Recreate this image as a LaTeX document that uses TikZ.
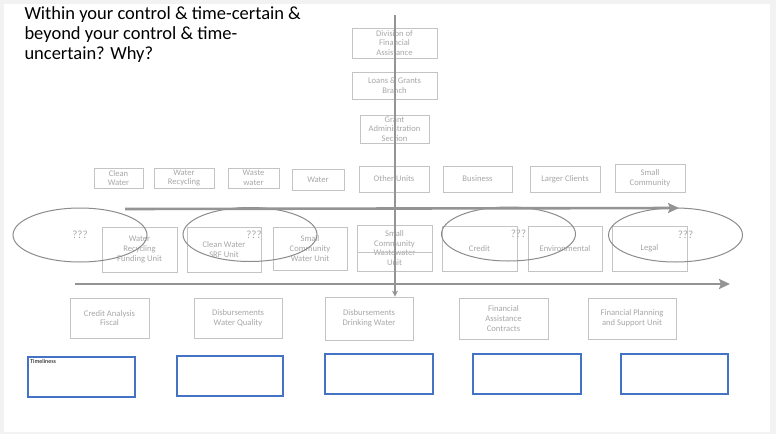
\documentclass[tikz,border=0pt]{standalone}
\usepackage{fontspec}
\setmainfont{Carlito}
\usepackage{tikz}
\usetikzlibrary{positioning,arrows.meta,shapes.geometric}

\definecolor{boxline}{RGB}{196,196,196}
\definecolor{boxtext}{RGB}{168,168,168}
\definecolor{flowline}{RGB}{148,148,148}
\definecolor{ringline}{RGB}{140,140,140}
\definecolor{slotblue}{RGB}{68,114,196}

\begin{document}
\begin{tikzpicture}[
  x=1pt,y=-1pt,
  gbox/.style={rectangle,draw=boxline,line width=0.8pt,inner sep=0pt,align=center,text=boxtext,font=\fontsize{8.6}{9.6}\selectfont},
  slot/.style={rectangle,draw=slotblue,line width=1.8pt,inner sep=0pt,minimum width=107pt,minimum height=40pt},
  ring/.style={ellipse,draw=ringline,line width=1pt,inner sep=0pt,minimum width=134pt,minimum height=54pt,text=boxtext,font=\fontsize{11}{12}\selectfont},
  flow/.style={-{Stealth[length=11pt,width=10pt,inset=2pt]},line width=2.6pt,draw=flowline},
]
% Frame
\useasboundingbox (0,0) rectangle (776,434);
\fill[gray!10] (0,0) rectangle (776,434);
\fill[white] (4,4) rectangle (770,432);

% Question
\node[anchor=north west,align=left,font=\fontsize{18.5}{20}\selectfont] (quest) at (21,3) {Within your control \& time-certain \&\\beyond your control \& time-\\uncertain? Why?};

% Top chain
\node[gbox,minimum width=85pt,minimum height=30pt] (dfa) at (394.5,43) {Division of\\Financial\\Assistance};
\node[gbox,minimum width=85pt,minimum height=27pt] (lgb) at (394.5,85.5) {Loans \& Grants\\Branch};
\node[gbox,minimum width=69pt,minimum height=28pt] (gas) at (394.5,129) {Grant\\Administration\\Section};

% Client row
\node[gbox,minimum width=49pt,minimum height=20pt] (cw) at (118.5,178) {Clean\\Water};
\node[gbox,minimum width=60pt,minimum height=20pt] (wr) at (184,178) {Water\\Recycling};
\node[gbox,minimum width=51pt,minimum height=20pt] (ww) at (253.5,178) {Waste\\water};
\node[gbox,minimum width=52pt,minimum height=21pt] (wat) at (318,179.5) {Water};
\node[gbox,minimum width=70pt,minimum height=26pt] (ou) at (394,179) {Other Units};
\node[gbox,minimum width=69pt,minimum height=26pt] (bus) at (477.5,179) {Business};
\node[gbox,minimum width=70pt,minimum height=26pt] (lc) at (565,179) {Larger Clients};
\node[gbox,minimum width=70pt,minimum height=28pt] (sc) at (650,178) {Small\\Community};

% Unit row
\node[gbox,minimum width=75pt,minimum height=45pt] (wrf) at (139.5,249.5) {Water\\Recycling\\Funding Unit};
\node[gbox,minimum width=74pt,minimum height=45pt] (cws) at (224,249.5) {Clean Water\\SRF Unit};
\node[gbox,minimum width=74pt,minimum height=43pt] (scw) at (310,248.5) {Small\\Community\\Water Unit};
\node[gbox,minimum width=75pt,minimum height=46pt] (scww) at (394.5,248) {Small\\Community\\Wastewater\\Unit};
\node[gbox,minimum width=75pt,minimum height=27pt] (stu) at (394.5,238.5) {};
\node[gbox,minimum width=75pt,minimum height=45pt] (cr) at (479.5,248.5) {Credit};
\node[gbox,minimum width=74pt,minimum height=45pt] (env) at (565,248.5) {Environmental};
\node[gbox,minimum width=75pt,minimum height=45pt] (leg) at (649.5,248.5) {Legal};

% Section row
\node[gbox,minimum width=79pt,minimum height=40pt] (caf) at (109.5,318) {Credit Analysis\\Fiscal};
\node[gbox,minimum width=88pt,minimum height=40pt] (dwq) at (238,318) {Disbursements\\Water Quality};
\node[gbox,minimum width=88pt,minimum height=43pt] (ddw) at (369,318.5) {Disbursements\\Drinking Water};
\node[gbox,minimum width=89pt,minimum height=41pt] (fac) at (503.5,318.5) {Financial\\Assistance\\Contracts};
\node[gbox,minimum width=88pt,minimum height=41pt] (fps) at (632,318.5) {Financial Planning\\and Support Unit};

% Open questions
\node[ring] (q1) at (80,235) {???};
\node[ring] (q2) at (250,234.5) {\hspace*{8pt}???};
\node[ring] (q3) at (508.5,234) {\hspace*{20pt}???};
\node[ring] (q4) at (675.5,235) {\hspace*{20pt}???};

% Flows
\coordinate (vtop) at (395,15);
\draw[flow,-{Stealth[length=6pt,width=6pt]}] (vtop) -- (vtop |- ddw.north);
\coordinate (a1s) at (125,209);
\coordinate (a1e) at (679,208);
\draw[flow] (a1s) -- (a1e);
\coordinate (a2s) at (75,284);
\coordinate (a2e) at (730,284);
\draw[flow] (a2s) -- (a2e);

% Timeliness slots
\node[slot] (t1) at (81.5,377) {};
\node[anchor=north west,inner sep=1pt,font=\fontsize{6}{7}\selectfont] (tl) at ([xshift=2pt,yshift=-2pt]t1.north west) {Timeliness};
\node[slot,minimum width=106pt] (t2) at (230,376) {};
\node[slot,minimum width=108pt] (t3) at (379,374) {};
\node[slot,minimum width=108pt] (t4) at (527,374) {};
\node[slot] (t5) at (674.5,374) {};
\end{tikzpicture}
\end{document}
